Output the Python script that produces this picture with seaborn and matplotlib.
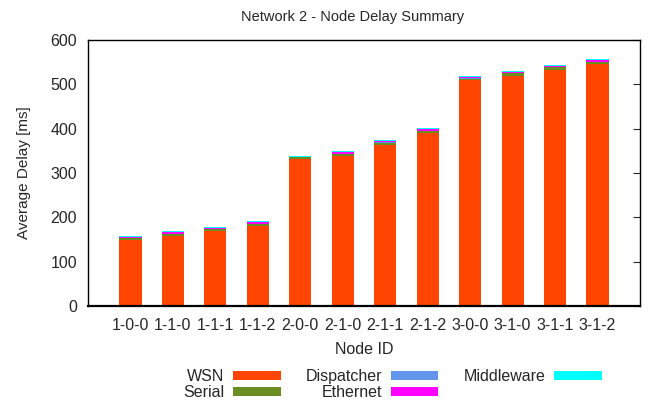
import matplotlib
matplotlib.use("Agg")
import matplotlib.pyplot as plt
import seaborn as sns
import numpy as np
import pandas as pd
from matplotlib.patches import Patch

nodes = ["1-0-0", "1-1-0", "1-1-1", "1-1-2", "2-0-0", "2-1-0",
         "2-1-1", "2-1-2", "3-0-0", "3-1-0", "3-1-1", "3-1-2"]
wsn = [149, 158, 169, 180, 331, 339, 364, 390, 509, 518, 532, 546]
serial = [4.5, 4.5, 4.5, 4.5, 4.5, 4, 4.5, 4.5, 4, 7, 7, 4.5]
dispatcher = [0.5, 0.5, 0.5, 0.5, 0.5, 0.5, 0.5, 0.5, 0.5, 0.5, 0.5, 0.5]
ethernet = [2, 4.5, 2, 4.5, 1, 4.5, 2.5, 4, 3, 3, 2.5, 4.5]
middleware = [2, 2, 2, 2, 2, 2, 2, 2, 2, 2, 2, 2]

series_names = ["WSN", "Serial", "Dispatcher", "Ethernet", "Middleware"]
series_vals = [wsn, serial, dispatcher, ethernet, middleware]
colors = ["#FF4500", "#6B8E23", "#6495ED", "#FF00FF", "#00FFFF"]

sns.set_style("white")
plt.rcParams["font.family"] = ["Liberation Sans", "DejaVu Sans"]

fig = plt.figure(figsize=(6.49, 4.04), dpi=100)
ax = fig.add_axes([88/649, 1-306/404, (640-88)/649, (306-40)/404])

cum = np.cumsum(np.array(series_vals, dtype=float), axis=0)
df = pd.DataFrame({"node": nodes})
for i in range(len(series_names) - 1, -1, -1):
    df["v"] = cum[i]
    sns.barplot(data=df, x="node", y="v", color=colors[i], width=0.52,
                saturation=1, ax=ax, edgecolor="none", linewidth=0)

ax.set_xlim(-1, 12)
ax.set_ylim(0, 600)
ax.set_yticks(range(0, 601, 100))
ax.set_xlabel("Node ID", fontsize=11.5, labelpad=6)
ax.set_ylabel("Average Delay [ms]", fontsize=11, labelpad=14)
fig.text(353/649, 1-17/404, "Network 2 - Node Delay Summary", fontsize=10.5,
         ha="center", va="center")
ax.tick_params(axis="y", direction="in", length=5, right=True, labelsize=11.5,
               width=0.8, pad=8)
ax.tick_params(axis="x", length=0, labelsize=11.5, pad=9)
for s in ax.spines.values():
    s.set_visible(True)
    s.set_color("black")
    s.set_linewidth(1.0)
ax.spines["bottom"].set_linewidth(1.6)

handles = [Patch(facecolor=c, edgecolor="none") for c in colors]
leg = fig.legend(handles, series_names, loc="upper center", ncol=3,
                 bbox_to_anchor=(0.605, 1-355/404), frameon=False, markerfirst=False,
                 fontsize=11.5, handlelength=3.0, handleheight=0.5,
                 columnspacing=1.6, labelspacing=0.05, handletextpad=0.5)
for t in leg.get_texts():
    t.set_ha("right")

fig.savefig("out.png", dpi=100)
